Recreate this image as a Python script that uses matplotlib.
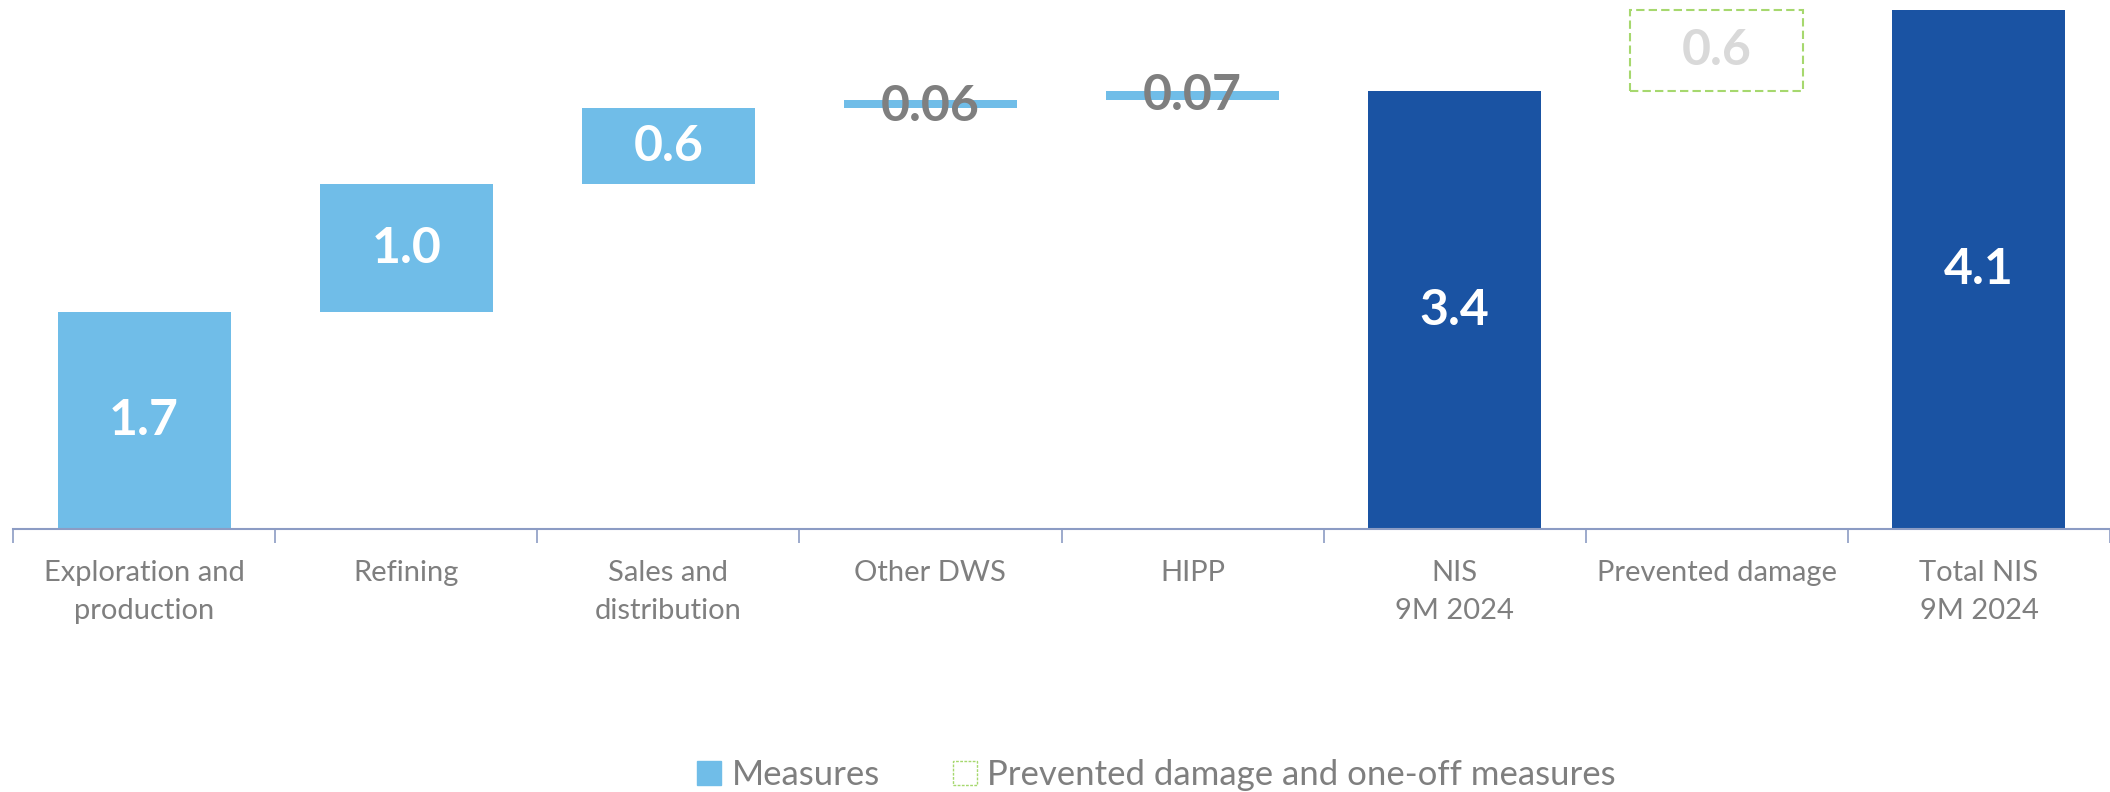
import matplotlib
matplotlib.use("Agg")
import matplotlib.pyplot as plt
from matplotlib import font_manager
from matplotlib.patches import Patch
import numpy as np

# pick a Calibri-like font if available
names = set(f.name for f in font_manager.fontManager.ttflist)
font = "DejaVu Sans"
for cand in ["Liberation Sans Narrow", "Lato", "Open Sans"]:
    if cand in names:
        font = cand
        break
plt.rcParams["font.family"] = [font, "DejaVu Sans"]

categories = ["Exploration and\nproduction", "Refining", "Sales and\ndistribution",
              "Other DWS", "HIPP", "NIS\n9M 2024", "Prevented damage",
              "Total NIS\n9M 2024"]
steps = [1.7, 1.0, 0.6, 0.06, 0.07]
nis_total = 3.43
prevented = 0.64
grand_total = 4.07
value_labels = ["1.7", "1.0", "0.6", "0.06", "0.07", "3.4", "0.6", "4.1"]

light = "#70BDE8"
dark = "#1A53A3"
green = "#A6D86E"
grey = "#7F7F7F"
axcol = "#8C9CC4"

fig = plt.figure(figsize=(21.1, 7.92), dpi=100)
ax = fig.add_axes([13 / 2110, 1 - 529 / 792, 1 - 13 / 2110, 529 / 792])

w = 0.66
bottoms = np.concatenate([[0], np.cumsum(steps)[:-1]])
x = np.arange(len(categories))

ax.bar(x[:5], steps, bottom=bottoms, width=w, color=light)
ax.bar(x[5], nis_total, width=w, color=dark)
ax.bar(x[6], prevented, bottom=nis_total, width=w, facecolor="none",
       edgecolor=green, linestyle=(0, (4, 2)), linewidth=1.5)
ax.bar(x[7], grand_total, width=w, color=dark)

fs = 36
# value labels
for i in range(3):
    ax.text(x[i], bottoms[i] + steps[i] / 2, value_labels[i], ha="center", va="center",
            color="white", fontsize=fs, fontweight="bold")
ax.text(x[3], bottoms[3] + steps[3] / 2 - 0.02, value_labels[3], ha="center", va="center",
        color=grey, fontsize=fs, fontweight="bold")
ax.text(x[4], bottoms[4] + steps[4] / 2, value_labels[4], ha="center", va="center",
        color=grey, fontsize=fs, fontweight="bold")
ax.text(x[5], nis_total / 2, value_labels[5], ha="center", va="center",
        color="white", fontsize=fs, fontweight="bold")
ax.text(x[6], nis_total + prevented / 2, value_labels[6], ha="center", va="center",
        color="#D9D9D9", fontsize=fs, fontweight="bold")
ax.text(x[7], grand_total / 2, value_labels[7], ha="center", va="center",
        color="white", fontsize=fs, fontweight="bold")

ax.set_xlim(-0.5, 7.5)
ax.set_ylim(0, 4.145)
ax.set_yticks([])
for s in ["top", "left", "right"]:
    ax.spines[s].set_visible(False)
ax.spines["bottom"].set_color(axcol)
ax.spines["bottom"].set_linewidth(1.5)

ax.set_xticks(x)
ax.set_xticklabels(categories, color=grey, fontsize=21, linespacing=1.6)
ax.tick_params(axis="x", which="major", length=0, pad=22)
ax.set_xticks(np.arange(-0.5, 8, 1), minor=True)
ax.tick_params(axis="x", which="minor", length=10, width=1.2, color=axcol)

handles = [Patch(facecolor=light, edgecolor=light),
           Patch(facecolor="none", edgecolor=green, linestyle=(0, (2, 1)), linewidth=1)]
leg = fig.legend(handles, ["Measures", "Prevented damage and one-off measures"],
                 loc="center", bbox_to_anchor=(0.548, 1 - 775 / 792), ncol=2,
                 frameon=False, fontsize=25, handlelength=0.7, handleheight=0.7,
                 handletextpad=0.3, columnspacing=2.1)
for t in leg.get_texts():
    t.set_color(grey)

fig.savefig("out.png", dpi=100)
